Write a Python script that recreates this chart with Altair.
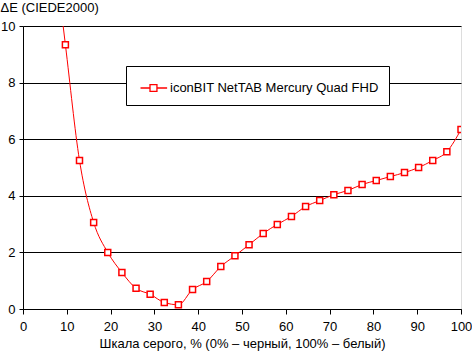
import altair as alt
import pandas as pd

gray_pct = [6.45, 9.68, 12.90, 16.13, 19.35, 22.58, 25.81, 29.03, 32.26, 35.48,
            38.71, 41.94, 45.16, 48.39, 51.61, 54.84, 58.06, 61.29, 64.52, 67.74,
            70.97, 74.19, 77.42, 80.65, 83.87, 87.10, 90.32, 93.55, 96.77, 100.0]
delta_e = [13.5, 9.34, 5.25, 3.06, 2.00, 1.29, 0.73, 0.52, 0.23, 0.15,
           0.69, 0.97, 1.50, 1.88, 2.27, 2.67, 2.99, 3.27, 3.62, 3.83,
           4.04, 4.19, 4.40, 4.54, 4.68, 4.82, 5.00, 5.25, 5.56, 6.34]
series_name = "iconBIT NetTAB Mercury Quad FHD"
x_ticks = list(range(0, 101, 10))
y_ticks = [0, 2, 4, 6, 8, 10]

df = pd.DataFrame({"gray": gray_pct, "de": delta_e, "series": series_name})

FONT = "Liberation Sans"
common = dict(
    labelFont=FONT, titleFont=FONT, labelFontSize=13, titleFontSize=13,
    labelColor="black", titleColor="black", titleFontWeight="normal",
    domainColor="black", tickColor="black", gridColor="black",
    gridOpacity=1, domainWidth=1, tickWidth=1, gridWidth=1,
)

x_enc = alt.X(
    "gray:Q",
    scale=alt.Scale(domain=[0, 100], nice=False, zero=False),
    axis=alt.Axis(
        values=x_ticks, grid=False, tickSize=5, labelPadding=6,
        title="Шкала серого, % (0% – черный, 100% – белый)",
        titlePadding=4, labelFlush=False, labelOverlap=False, **common,
    ),
)
y_enc = alt.Y(
    "de:Q",
    scale=alt.Scale(domain=[0, 10], nice=False),
    axis=alt.Axis(
        values=y_ticks, grid=True, tickSize=4, labelPadding=4,
        title="ΔE (CIEDE2000)", titleAngle=0, titleAlign="left",
        titleBaseline="alphabetic", titleX=-23, titleY=-15, **common,
    ),
)

sym_path = "M-0.67,0H0.18M0.8,0H1.71M0.18,-0.31H0.8V0.31H0.18Z"

line = alt.Chart(df).mark_line(
    interpolate="monotone", strokeWidth=1, clip=True
).encode(
    x=x_enc, y=y_enc,
    color=alt.Color(
        "series:N",
        scale=alt.Scale(range=["#ff0000"]),
        legend=alt.Legend(
            title=None, orient="none", legendX=103, legendY=40,
            fillColor="white", strokeColor="black", padding=10,
            symbolType=sym_path, symbolSize=500, symbolStrokeWidth=1.3,
            symbolFillColor="white", labelOffset=10,
            labelFont=FONT, labelFontSize=13, labelColor="black",
            labelLimit=400,
        ),
    ),
)

pts = alt.Chart(df).mark_point(
    shape="square", filled=True, fill="white", stroke="#ff0000",
    strokeWidth=1.5, size=36, opacity=1, clip=True
).encode(x=x_enc, y=y_enc)

chart = alt.layer(line, pts).properties(
    width=438, height=283,
    padding={"left": 23, "top": 26, "right": 11, "bottom": 43},
    autosize=alt.AutoSizeParams(type="none"),
).configure_view(
    stroke="black", strokeWidth=1
).configure(background="white")

chart.save("out.html", embed_options={"renderer": "svg", "actions": False})
